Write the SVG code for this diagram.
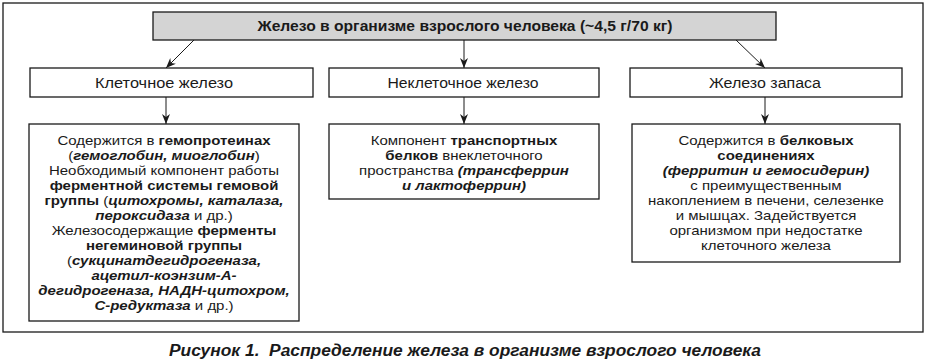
<svg xmlns="http://www.w3.org/2000/svg" width="930" height="361" viewBox="0 0 930 361">
<defs>
<style>
.box{fill:#fff;stroke:#1a1a1a;stroke-width:1.3}
.top{fill:#d4d4d4;stroke:#1a1a1a;stroke-width:1.3}
.frame{fill:none;stroke:#1a1a1a;stroke-width:1.3}
.con{stroke:#1a1a1a;stroke-width:1;fill:none}
text{font-family:"Liberation Sans",Arial,sans-serif;fill:#1a1a1a}
.t{font-size:13.3px;text-anchor:middle}
.h{font-size:14px;text-anchor:middle}
.b{font-weight:bold}
.bi{font-weight:bold;font-style:italic}
.cap{font-size:16px;font-weight:bold;font-style:italic;text-anchor:middle}
</style>
<marker id="arr" viewBox="0 0 10 10" refX="10" refY="5" markerWidth="10" markerHeight="10" markerUnits="userSpaceOnUse" orient="auto">
<path d="M0,1 L10,5 L0,9 L3,5 Z" fill="#1a1a1a"/>
</marker>
</defs>
<rect class="frame" x="3" y="3" width="920" height="329"/>
<g id="connectors">
<line class="con" x1="194" y1="40" x2="166" y2="68" marker-end="url(#arr)"/>
<line class="con" x1="464" y1="40" x2="464" y2="68" marker-end="url(#arr)"/>
<line class="con" x1="736" y1="40" x2="765" y2="68" marker-end="url(#arr)"/>
<line class="con" x1="166" y1="97" x2="166" y2="124" marker-end="url(#arr)"/>
<line class="con" x1="464" y1="97" x2="464" y2="124" marker-end="url(#arr)"/>
<line class="con" x1="765" y1="97" x2="765" y2="124" marker-end="url(#arr)"/>
</g>
<g id="root">
<rect class="top" x="153" y="12" width="623" height="28"/>
<text class="h b" x="465" y="31" textLength="415" lengthAdjust="spacingAndGlyphs">Железо в организме взрослого человека (~4,5 г/70 кг)</text>
</g>
<g id="cellular">
<rect class="box" x="30" y="68" width="283" height="29"/>
<text class="h" x="164" y="88" textLength="138" lengthAdjust="spacingAndGlyphs">Клеточное железо</text>
</g>
<g id="noncellular">
<rect class="box" x="329" y="68" width="270" height="29"/>
<text class="h" x="463" y="88" textLength="151" lengthAdjust="spacingAndGlyphs">Неклеточное железо</text>
</g>
<g id="storage">
<rect class="box" x="630" y="68" width="272" height="29"/>
<text class="h" x="765" y="88" textLength="112" lengthAdjust="spacingAndGlyphs">Железо запаса</text>
</g>
<g id="cellular-desc">
<rect class="box" x="29" y="124" width="270" height="197"/>
<text class="t" y="145" transform="translate(164 0) scale(1.128 1)"><tspan x="0">Содержится в <tspan class="b">гемопротеинах</tspan></tspan><tspan x="0" dy="15">(<tspan class="bi">гемоглобин, миоглобин</tspan>)</tspan><tspan x="0" dy="15">Необходимый компонент работы</tspan><tspan x="0" dy="15" class="b">ферментной системы гемовой</tspan><tspan x="0" dy="15"><tspan class="b">группы</tspan> (<tspan class="bi">цитохромы, каталаза,</tspan></tspan><tspan x="0" dy="15"><tspan class="bi">пероксидаза</tspan> и др.)</tspan><tspan x="0" dy="15">Железосодержащие <tspan class="b">ферменты</tspan></tspan><tspan x="0" dy="15" class="b">негеминовой группы</tspan><tspan x="0" dy="15">(<tspan class="bi">сукцинатдегидрогеназа,</tspan></tspan><tspan x="0" dy="15" class="bi">ацетил-коэнзим-А-</tspan><tspan x="0" dy="15" class="bi">дегидрогеназа, НАДН-цитохром,</tspan><tspan x="0" dy="15"><tspan class="bi">С-редуктаза</tspan> и др.)</tspan></text>
</g>
<g id="noncellular-desc">
<rect class="box" x="329" y="124" width="270" height="75"/>
<text class="t" y="145" transform="translate(464 0) scale(1.128 1)"><tspan x="0">Компонент <tspan class="b">транспортных</tspan></tspan><tspan x="0" dy="14.9"><tspan class="b">белков</tspan> внеклеточного</tspan><tspan x="0" dy="14.9">пространства <tspan class="bi">(трансферрин</tspan></tspan><tspan x="0" dy="14.9" class="bi">и лактоферрин)</tspan></text>
</g>
<g id="storage-desc">
<rect class="box" x="632" y="124" width="268" height="138"/>
<text class="t" y="145" transform="translate(766 0) scale(1.128 1)"><tspan x="0">Содержится в <tspan class="b">белковых</tspan></tspan><tspan x="0" dy="15" class="b">соединениях</tspan><tspan x="0" dy="15" class="bi">(ферритин и гемосидерин)</tspan><tspan x="0" dy="15">с преимущественным</tspan><tspan x="0" dy="15">накоплением в печени, селезенке</tspan><tspan x="0" dy="15">и мышцах. Задействуется</tspan><tspan x="0" dy="15">организмом при недостатке</tspan><tspan x="0" dy="15">клеточного железа</tspan></text>
</g>
<text class="cap" x="465" y="356" textLength="592" lengthAdjust="spacingAndGlyphs">Рисунок 1.&#160; Распределение железа в организме взрослого человека</text>
</svg>
